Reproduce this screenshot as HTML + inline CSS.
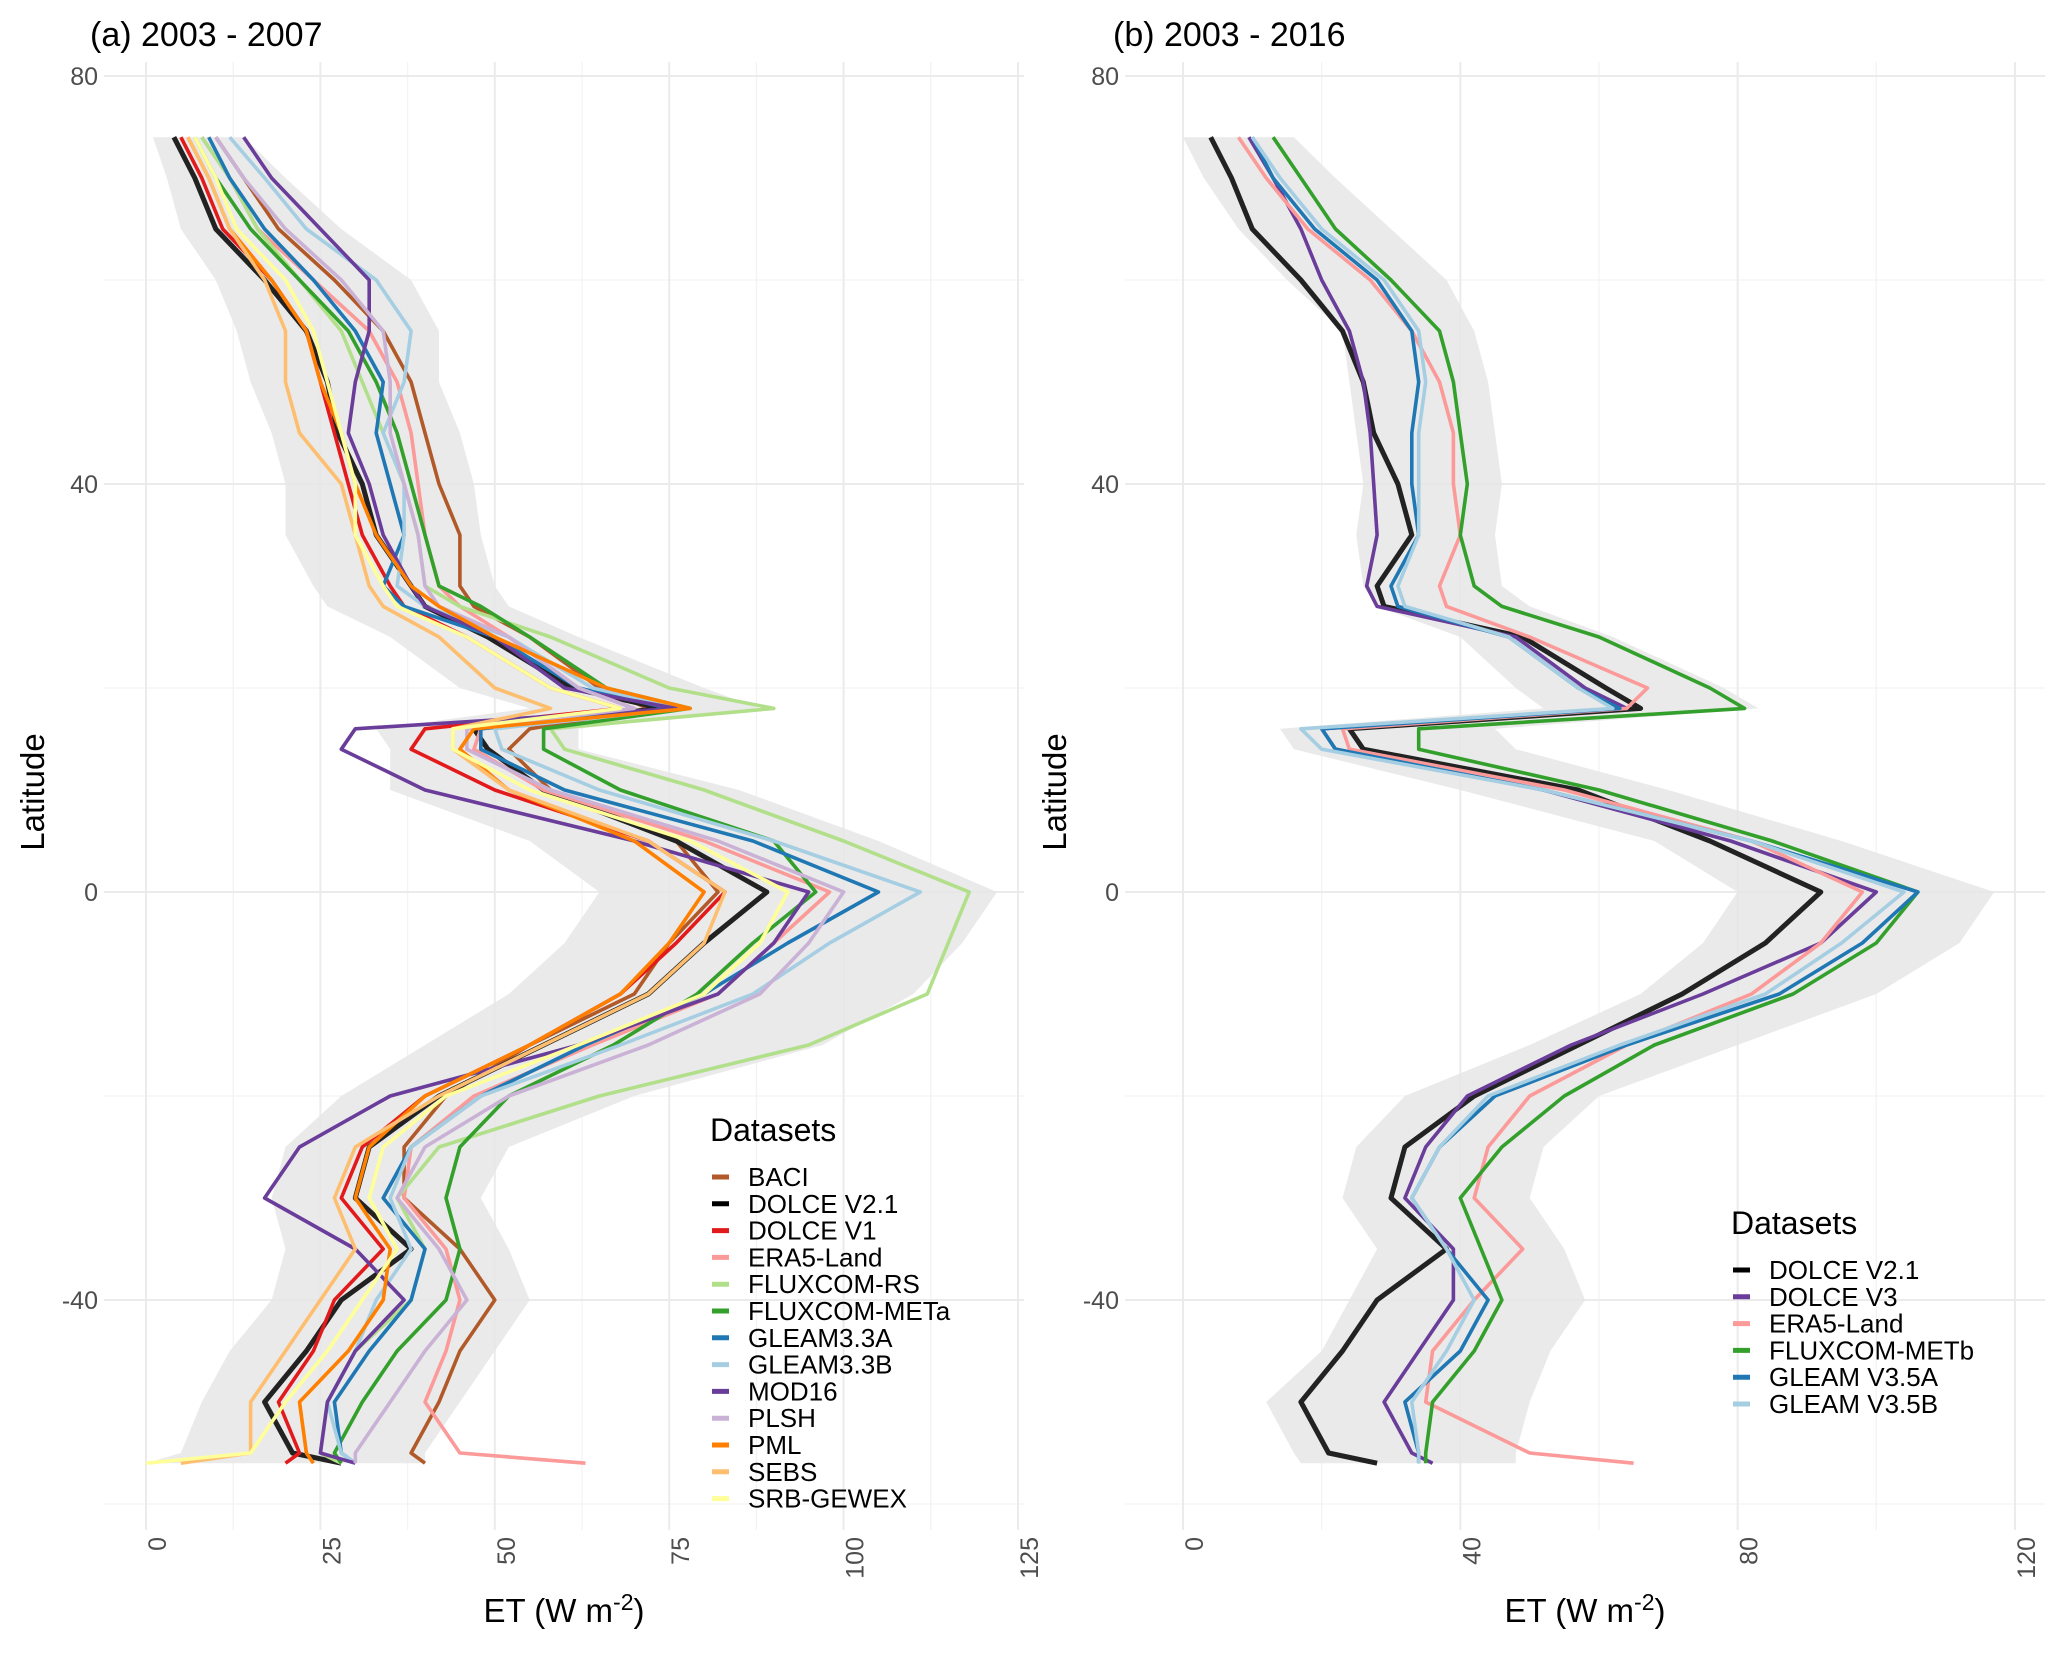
<!DOCTYPE html>
<html><head><meta charset="utf-8"><style>
html,body{margin:0;padding:0;background:#fff;}
svg{display:block;font-family:"Liberation Sans",Arial,sans-serif;}
</style></head><body>
<svg id="chart" width="2067" height="1654" viewBox="0 0 2067 1654">
<g id="root"></g>
</svg>
<script>
const lats=[74,70,65,60,55,50,45,40,35,30,28,25,20,18,16,14,10,5,0,-5,-10,-15,-20,-25,-30,-35,-40,-45,-50,-55,-56];
const latTicks=[80,40,0,-40];
const xTicksA=[0,25,50,75,100,125];
const xTicksB=[0,40,80,120];
const bandALow=[1,3,5,10,13,15,18,20,20,24,26,35,45,55,33,35,35,55,65,60,52,40,28,20,18,20,18,12,8,5,0];
const bandAHigh=[14,20,28,38,42,42,45,47,48,50,52,62,80,88,62,62,85,105,122,117,110,97,70,52,48,52,55,50,45,40,40];
const bandBLow=[0,3,8,15,23,24,25,26,25,26,28,40,48,52,14,16,40,68,80,75,66,50,32,25,23,28,24,20,12,16,17];
const bandBHigh=[16,22,30,38,42,44,45,46,45,46,50,62,78,83,45,48,70,95,117,112,100,80,60,52,50,55,58,53,50,48,48];
const namesA=["BACI","DOLCE V2.1","DOLCE V1","ERA5-Land","FLUXCOM-RS","FLUXCOM-METa","GLEAM3.3A","GLEAM3.3B","MOD16","PLSH","PML","SEBS","SRB-GEWEX"];
const colorsA=["#b15928","#000000","#e31a1c","#fb9a99","#b2df8a","#33a02c","#1f78b4","#a6cee3","#6a3d9a","#cab2d6","#ff7f00","#fdbf6f","#ffff99"];
const baci=[10,14,19,27,34,38,40,42,45,45,47,55,65,72,55,52,58,76,82,75,70,55,43,37,37,45,50,45,42,38,40];
const dolce21=[4,7,10,17,23,26,27.5,31,33,38,40,49,61,74,47,49,57,76,89,80,72,57,42,32,30,38,28,23,17,21,28];
const dolce1=[5,8,11,18,23,25,27,29,31,35,37,46,58,68,40,38,50,72,83,76,68,55,40,31,28,34,27,24,19,22,20];
const era5=[8,12,16,24,32,36,38,39,40,42,45,52,62,70,48,47,57,80,98,90,82,64,47,38,37,43,45,43,40,45,63];
const fluxRS=[8,12,16,22,28,31,34,37,39,40,45,58,75,90,58,60,80,100,118,115,112,95,65,42,36,40,38,30,26,25,28];
const fluxMETa=[7,10,15,22,29,33,36,38,40,42,48,55,66,78,57,57,68,90,96,87,79,67,52,45,43,45,43,36,31,27,28];
const gleamA=[9,12,17,24,30,34,33,35,37,34,37,50,62,75,48,48,60,87,105,92,80,63,48,38,34,40,38,32,27,28,30];
const gleamB=[12,17,23,33,38,37,34,37,37,36,40,52,64,77,50,51,65,90,111,98,87,68,48,38,35,38,33,30,26,28,30];
const mod16=[14,18,25,32,32,30,29,32,34,38,40,50,60,76,30,28,40,70,95,90,82,62,35,22,17,30,37,30,26,25,30];
const plsh=[10,14,20,28,34,35,35,37,39,40,42,52,62,70,46,46,58,82,100,95,88,72,52,40,36,42,46,40,35,30,30];
const pml=[6,9,12,18,23,25,28,30,33,38,42,50,66,78,47,45,52,70,80,75,68,55,40,32,30,35,34,29,22,23,24];
const sebs=[6,9,12,17,20,20,22,28,30,32,34,42,50,58,44,44,52,72,83,80,72,57,42,30,27,30,25,20,15,15,5];
const srb=[7,10,13,20,24,26,28,30,30,34,36,46,58,68,44,44,55,78,92,88,80,62,43,34,32,36,31,26,20,15,0];
const namesB=["DOLCE V2.1","DOLCE V3","ERA5-Land","FLUXCOM-METb","GLEAM V3.5A","GLEAM V3.5B"];
const colorsB=["#000000","#6a3d9a","#fb9a99","#33a02c","#1f78b4","#a6cee3"];
const bDolce21=[4,7,10,17,23,26,27.5,31,33,28,29,49,61,66,24,26,57,76,92,84,72,57,42,32,30,38,28,23,17,21,28];
const bDolce3=[9.5,13,17,20,24,26,27,27.5,28,26.5,28,48,58,64,20,22,52,79,100,92,75,56,41,35,32,39,39,34,29,33,36];
const bEra5=[8,12,18,27,33,37,39,39,40,37,38,50,67,64,23,24,55,82,98,92,82,64,50,44,42,49,42,36,35,50,65];
const bFluxB=[13,17,22,30,37,39,40,41,40,42,46,60,76,81,34,34,60,85,106,100,88,68,55,46,40,43,46,42,36,35,35];
const bGleamA=[10,13,19,28,33,34,33,33,34,30,31,47,57,63,20,22,52,82,106,98,86,64,45,37,33,38,44,40,32,34,34];
const bGleamB=[10,14,20,29,34,35,34,34,34,31,32,47,57,62,17,20,52,82,104,95,84,63,44,37,33,38,42,38,33,34,34];

const seriesA=[baci,dolce21,dolce1,era5,fluxRS,fluxMETa,gleamA,gleamB,mod16,plsh,pml,sebs,srb];
const seriesB=[bDolce21,bDolce3,bEra5,bFluxB,bGleamA,bGleamB];

const NS="http://www.w3.org/2000/svg";
const root=document.getElementById('root');
function mk(tag,attrs,parent){const e=document.createElementNS(NS,tag);for(const k in attrs)e.setAttribute(k,attrs[k]);(parent||root).appendChild(e);return e;}
const yOf=v=>892-(v*408/40);

function panel(cfg){
  const g=mk('g',{});
  
  
  const xOf=v=>cfg.x0+v*cfg.k;
  for(let i=0;i<cfg.ticks.length-1;i++){const m=(cfg.ticks[i]+cfg.ticks[i+1])/2;
    mk('line',{x1:xOf(m),x2:xOf(m),y1:62,y2:1530,stroke:'#f3f3f3','stroke-width':1.3},g);}
  [60,20,-20,-60].forEach(v=>mk('line',{x1:cfg.left,x2:cfg.right,y1:yOf(v),y2:yOf(v),stroke:'#f3f3f3','stroke-width':1.3},g));
  cfg.ticks.forEach(v=>{const l=mk('line',{x1:xOf(v),x2:xOf(v),y1:62,y2:1530,stroke:'#ebebeb','stroke-width':2},g);
    });
  latTicks.forEach(v=>{const l=mk('line',{x1:cfg.left,x2:cfg.right,y1:yOf(v),y2:yOf(v),stroke:'#ebebeb','stroke-width':2},g);
    });
  let d='';
  lats.forEach((la,i)=>{d+=(i?'L':'M')+xOf(cfg.hi[i]).toFixed(1)+','+yOf(la).toFixed(1);});
  for(let i=lats.length-1;i>=0;i--)d+='L'+xOf(cfg.lo[i]).toFixed(1)+','+yOf(lats[i]).toFixed(1);
  const band=mk('path',{d:d+'Z',fill:'#e6e6e6','fill-opacity':0.85},g);
  
  cfg.series.forEach((s,si)=>{
    const isBlack=cfg.colors[si]==='#000000';
    let p='';lats.forEach((la,i)=>{p+=(i?'L':'M')+xOf(s[i]).toFixed(1)+','+yOf(la).toFixed(1);});
    const line=mk('path',{d:p,fill:'none',stroke:isBlack?'#222':cfg.colors[si],'stroke-width':isBlack?5:3.6,'stroke-linejoin':'round'},g);
    
    
  });
  latTicks.forEach(v=>{const t=mk('text',{x:cfg.left-6,y:yOf(v)+9,'text-anchor':'end','font-size':25,fill:'#4d4d4d'},g);t.textContent=v;
    });
  cfg.ticks.forEach(v=>{const t=mk('text',{x:0,y:0,'text-anchor':'end','font-size':25,fill:'#4d4d4d',transform:`translate(${xOf(v)+20},1537) rotate(-90)`},g);t.textContent=v;
    });
  const xt=mk('text',{x:(cfg.left+cfg.right)/2,y:1622,'text-anchor':'middle','font-size':33,fill:'#000'},g);
  xt.innerHTML='ET (W m<tspan dy="-12" font-size="23">-2</tspan><tspan dy="12">)</tspan>';
  
  const yt=mk('text',{x:0,y:0,'text-anchor':'middle','font-size':33,fill:'#000',transform:`translate(${cfg.ytx},792) rotate(-90)`},g);
  yt.textContent='Latitude';
  const pt=mk('text',{x:cfg.tx,y:46,'font-size':34,fill:'#000'},g);pt.textContent=cfg.title;
  
  const lg=mk('g',{},g);
  const lt=mk('text',{x:cfg.lx,y:cfg.ly,'font-size':32,fill:'#000'},lg);lt.textContent='Datasets';
  
  cfg.names.forEach((n,i)=>{const y=cfg.ly+45+i*26.8;
    const k=mk('line',{x1:cfg.lx+2,x2:cfg.lx+19,y1:y-9,y2:y-9,stroke:cfg.colors[i],'stroke-width':5},lg);
    
    const t=mk('text',{x:cfg.lx+38,y:y,'font-size':26,fill:'#000'},lg);t.textContent=n;
    });
}
panel({id:'panel-a',x0:146,k:6.976,left:104,right:1024,ticks:xTicksA,lo:bandALow,hi:bandAHigh,series:seriesA,colors:colorsA,names:namesA,title:'(a) 2003 - 2007',tx:90,ytx:44,lx:710,ly:1141});
panel({id:'panel-b',x0:1183,k:6.933,left:1125,right:2045,ticks:xTicksB,lo:bandBLow,hi:bandBHigh,series:seriesB,colors:colorsB,names:namesB,title:'(b) 2003 - 2016',tx:1113,ytx:1066,lx:1731,ly:1234});
</script>
</body></html>
